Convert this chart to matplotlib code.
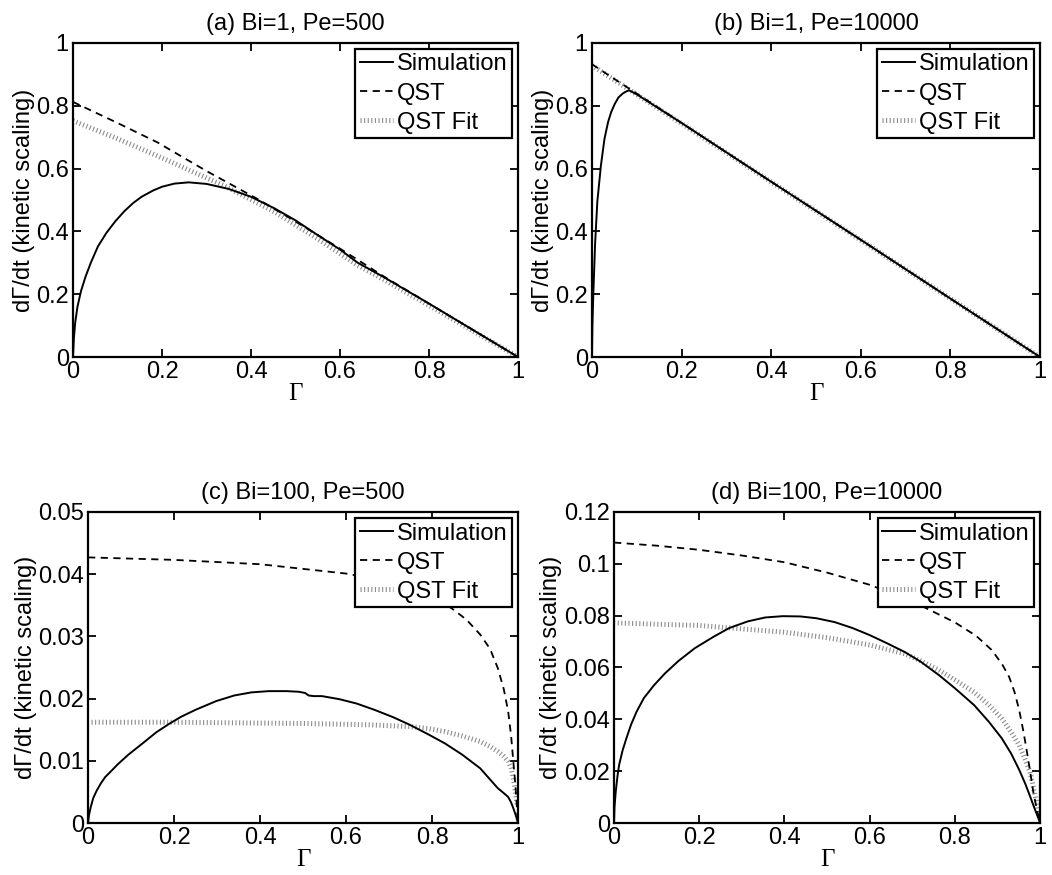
import numpy as np
import matplotlib
matplotlib.use('Agg')
import matplotlib.pyplot as plt

plt.rcParams['font.family'] = ['Liberation Sans', 'DejaVu Sans']
plt.rcParams['font.size'] = 17

LEGEND_LABELS = ['Simulation', 'QST', 'QST Fit']
TITLES = ['(a) Bi=1, Pe=500', '(b) Bi=1, Pe=10000', '(c) Bi=100, Pe=500', '(d) Bi=100, Pe=10000']
YLIMS = [1.0, 1.0, 0.05, 0.12]
YTICKS = [[0, 0.2, 0.4, 0.6, 0.8, 1], [0, 0.2, 0.4, 0.6, 0.8, 1],
          [0, 0.01, 0.02, 0.03, 0.04, 0.05], [0, 0.02, 0.04, 0.06, 0.08, 0.1, 0.12]]
YTICKLABELS = [['0', '0.2', '0.4', '0.6', '0.8', '1'], ['0', '0.2', '0.4', '0.6', '0.8', '1'],
               ['0', '0.01', '0.02', '0.03', '0.04', '0.05'],
               ['0', '0.02', '0.04', '0.06', '0.08', '0.1', '0.12']]

# (a) Bi=1, Pe=500
a_sim_g = [0, 0.002, 0.005, 0.01, 0.018, 0.028, 0.04, 0.056, 0.075, 0.095, 0.116, 0.135, 0.154, 0.18, 0.2,
           0.228, 0.26, 0.3, 0.35, 0.4, 0.453, 0.5, 0.55, 0.6, 0.64, 0.7, 0.8, 0.9, 1.0]
a_sim_v = [0, 0.06, 0.11, 0.16, 0.21, 0.255, 0.3, 0.352, 0.395, 0.432, 0.465, 0.49, 0.51, 0.53, 0.542,
           0.552, 0.556, 0.551, 0.535, 0.51, 0.473, 0.435, 0.388, 0.342, 0.30, 0.253, 0.17, 0.085, 0]
a_qst_g = [0, 0.1, 0.19, 0.3, 0.416, 0.49, 0.6, 0.7, 0.8, 0.9, 1.0]
a_qst_v = [0.812, 0.745, 0.683, 0.592, 0.502, 0.44, 0.345, 0.255, 0.17, 0.085, 0]
a_fit_g = [0, 0.1, 0.19, 0.34, 0.453, 0.55, 0.64, 0.7, 0.8, 0.9, 1.0]
a_fit_v = [0.752, 0.695, 0.64, 0.545, 0.462, 0.376, 0.292, 0.245, 0.164, 0.082, 0]

# (b) Bi=1, Pe=10000
b_sim_g = [0, 0.001, 0.003, 0.007, 0.012, 0.02, 0.028, 0.036, 0.043, 0.051, 0.059, 0.068, 0.076, 0.083, 0.1,
           0.2, 0.4, 0.6, 0.8, 1.0]
b_sim_v = [0, 0.1, 0.2, 0.36, 0.495, 0.61, 0.695, 0.748, 0.78, 0.806, 0.826, 0.838, 0.845, 0.849, 0.836,
           0.745, 0.558, 0.373, 0.186, 0]
b_qst_g = [0, 0.2, 0.4, 0.6, 0.8, 1.0]
b_qst_v = [0.932, 0.745, 0.558, 0.373, 0.186, 0]
b_fit_g = [0, 0.2, 0.4, 0.6, 0.8, 1.0]
b_fit_v = [0.928, 0.743, 0.557, 0.372, 0.186, 0]

# (c) Bi=100, Pe=500
c_sim_g = [0, 0.002, 0.006, 0.012, 0.02, 0.03, 0.04, 0.053, 0.07, 0.094, 0.125, 0.159, 0.19, 0.217, 0.25,
           0.298, 0.34, 0.38, 0.42, 0.462, 0.49, 0.505, 0.513, 0.525, 0.544, 0.585, 0.625, 0.666, 0.71,
           0.748, 0.79, 0.83, 0.87, 0.912, 0.935, 0.953, 0.967, 0.977, 0.984, 0.989, 0.995, 1.0]
c_sim_v = [0, 0.0012, 0.0025, 0.004, 0.0052, 0.0064, 0.0074, 0.0083, 0.0095, 0.011, 0.0127, 0.0146, 0.016,
           0.0171, 0.0182, 0.0196, 0.0205, 0.021, 0.0212, 0.0212, 0.0211, 0.0209, 0.0205, 0.0204, 0.0204,
           0.0199, 0.0192, 0.0182, 0.017, 0.0158, 0.0143, 0.0128, 0.011, 0.0088, 0.007, 0.0056, 0.0048,
           0.0042, 0.0033, 0.0024, 0.0012, 0]
c_qst_g = [0, 0.2, 0.4, 0.6, 0.7, 0.75, 0.8, 0.846, 0.88, 0.912, 0.935, 0.953, 0.967, 0.977, 0.984, 0.989,
           0.994, 0.998, 1.0]
c_qst_v = [0.0427, 0.0423, 0.0416, 0.0401, 0.0388, 0.0378, 0.0364, 0.0345, 0.0327, 0.0303, 0.028, 0.0249,
           0.0215, 0.018, 0.014, 0.010, 0.006, 0.002, 0]
c_fit_g = [0.008, 0.2, 0.5, 0.65, 0.748, 0.79, 0.83, 0.87, 0.912, 0.935, 0.953, 0.967, 0.977, 0.984, 0.989,
           0.994, 0.998]
c_fit_v = [0.0162, 0.0162, 0.016, 0.0158, 0.0155, 0.0152, 0.0147, 0.014, 0.0131, 0.0123, 0.0115, 0.0107,
           0.0099, 0.0088, 0.0072, 0.005, 0.003]

# (d) Bi=100, Pe=10000
d_sim_g = [0, 0.001, 0.004, 0.008, 0.012, 0.02, 0.029, 0.04, 0.053, 0.07, 0.094, 0.12, 0.151, 0.19, 0.233,
           0.27, 0.314, 0.355, 0.396, 0.437, 0.475, 0.518, 0.56, 0.6, 0.64, 0.682, 0.72, 0.763, 0.8, 0.845,
           0.88, 0.91, 0.932, 0.951, 0.965, 0.976, 0.985, 0.992, 1.0]
d_sim_v = [0, 0.006, 0.0122, 0.018, 0.0225, 0.028, 0.0327, 0.038, 0.043, 0.0482, 0.0532, 0.0578, 0.0625,
           0.0675, 0.0718, 0.0752, 0.0778, 0.0793, 0.0798, 0.0797, 0.079, 0.0775, 0.0752, 0.0725, 0.0694,
           0.066, 0.0622, 0.057, 0.052, 0.0455, 0.039, 0.0327, 0.0268, 0.0205, 0.0152, 0.0105, 0.0065,
           0.0035, 0]
d_qst_g = [0, 0.1, 0.2, 0.3, 0.4, 0.5, 0.6, 0.7, 0.8, 0.85, 0.886, 0.91, 0.927, 0.94, 0.951, 0.96, 0.967,
           0.975, 0.984, 0.992, 1.0]
d_qst_v = [0.1082, 0.107, 0.1054, 0.1032, 0.1006, 0.0966, 0.0919, 0.0855, 0.0774, 0.0722, 0.0668, 0.0615,
           0.0565, 0.0505, 0.0435, 0.036, 0.0295, 0.0215, 0.012, 0.0055, 0]
d_fit_g = [0, 0.2, 0.4, 0.5, 0.6, 0.682, 0.72, 0.763, 0.8, 0.845, 0.88, 0.91, 0.932, 0.951, 0.965, 0.976,
           0.988, 1.0]
d_fit_v = [0.0772, 0.0762, 0.0736, 0.0715, 0.0687, 0.0653, 0.0625, 0.059, 0.0552, 0.0505, 0.0455, 0.0403,
           0.035, 0.030, 0.0245, 0.0199, 0.0109, 0.002]

PANELS = [
    (a_sim_g, a_sim_v, a_qst_g, a_qst_v, a_fit_g, a_fit_v),
    (b_sim_g, b_sim_v, b_qst_g, b_qst_v, b_fit_g, b_fit_v),
    (c_sim_g, c_sim_v, c_qst_g, c_qst_v, c_fit_g, c_fit_v),
    (d_sim_g, d_sim_v, d_qst_g, d_qst_v, d_fit_g, d_fit_v),
]
# axes rectangles in figure fractions (left, bottom, width, height)
RECTS = [(0.0694, 0.592, 0.4230, 0.359), (0.5627, 0.592, 0.4259, 0.359),
         (0.0837, 0.0594, 0.4087, 0.3555), (0.5837, 0.0594, 0.4050, 0.3555)]


def draw_panel(ax, i):
    (sg, sv, qg, qv, fg, fv) = PANELS[i]
    ax.plot(fg, fv, color='#8c8c8c', lw=3.6, dashes=(0.22, 0.5), dash_capstyle='butt',
            solid_capstyle='butt', label=LEGEND_LABELS[2], zorder=2)
    ax.plot(qg, qv, color='black', lw=1.3, dashes=(4, 3), label=LEGEND_LABELS[1], zorder=3)
    ax.plot(sg, sv, color='black', lw=1.4, label=LEGEND_LABELS[0], zorder=4)
    ax.set_xlim(0, 1)
    ax.set_ylim(0, YLIMS[i])
    ax.set_xticks([0, 0.2, 0.4, 0.6, 0.8, 1])
    ax.set_xticklabels(['0', '0.2', '0.4', '0.6', '0.8', '1'])
    ax.set_yticks(YTICKS[i])
    ax.set_yticklabels(YTICKLABELS[i])
    ax.tick_params(direction='in', top=True, right=True, length=6, width=1.3, pad=3)
    for s in ax.spines.values():
        s.set_linewidth(1.6)
    ax.set_title(TITLES[i], fontsize=17, pad=9)
    ax.set_xlabel('Γ', family=['Liberation Serif', 'DejaVu Serif'], fontsize=18, labelpad=0)
    ax.set_ylabel('dΓ/dt (kinetic scaling)', labelpad=1)
    (handles, labels) = ax.get_legend_handles_labels()
    order = [2, 1, 0]
    leg = ax.legend([handles[k] for k in order], [labels[k] for k in order], loc='upper right',
                    fancybox=False, framealpha=1, edgecolor='black', handlelength=1.4,
                    handletextpad=0.15, labelspacing=0.3, borderpad=0.2, borderaxespad=0.25,
                    fontsize=17)
    leg.get_frame().set_linewidth(1.6)
    leg.set_zorder(10)


def main():
    fig = plt.figure(figsize=(10.52, 8.75), dpi=100)
    for i in range(4):
        ax = fig.add_axes(RECTS[i])
        draw_panel(ax, i)
    fig.savefig('out.png', dpi=100, facecolor='white')
    plt.close(fig)


if __name__ == '__main__':
    main()
